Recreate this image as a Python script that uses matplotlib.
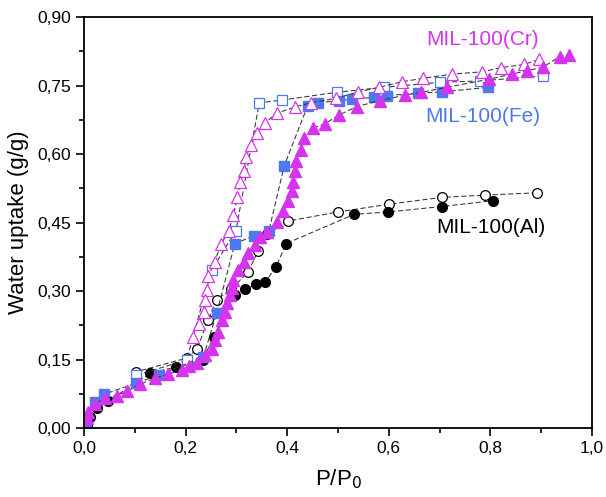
import matplotlib
matplotlib.use("Agg")
import matplotlib.pyplot as plt
from matplotlib.ticker import FuncFormatter, MultipleLocator

plt.rcParams['font.family'] = ['Liberation Sans', 'DejaVu Sans']

# MIL-100(Al) adsorption / desorption
al_ads_x = [0.005, 0.012, 0.025, 0.048, 0.13, 0.182, 0.234, 0.255, 0.297, 0.317,
            0.339, 0.357, 0.378, 0.398, 0.532, 0.599, 0.704, 0.806]
al_ads_y = [0.005, 0.025, 0.043, 0.059, 0.12, 0.134, 0.149, 0.20, 0.291, 0.304,
            0.315, 0.320, 0.353, 0.404, 0.468, 0.473, 0.485, 0.498]
al_des_x = [0.891, 0.789, 0.704, 0.600, 0.499, 0.401, 0.361, 0.343, 0.323, 0.29,
            0.261, 0.244, 0.223, 0.202, 0.102]
al_des_y = [0.515, 0.510, 0.505, 0.490, 0.473, 0.453, 0.424, 0.388, 0.342, 0.304,
            0.281, 0.237, 0.173, 0.153, 0.123]

# MIL-100(Fe)
fe_ads_x = [0.004, 0.022, 0.040, 0.102, 0.147, 0.235, 0.261, 0.297, 0.335, 0.364,
            0.394, 0.44, 0.46, 0.502, 0.528, 0.57, 0.596, 0.657, 0.704, 0.796]
fe_ads_y = [0.01, 0.058, 0.074, 0.098, 0.116, 0.156, 0.251, 0.404, 0.421, 0.432,
            0.574, 0.705, 0.712, 0.717, 0.72, 0.724, 0.728, 0.733, 0.736, 0.746]
fe_des_x = [0.903, 0.78, 0.70, 0.59, 0.497, 0.389, 0.345, 0.299, 0.251, 0.202, 0.102]
fe_des_y = [0.771, 0.760, 0.757, 0.746, 0.735, 0.718, 0.712, 0.432, 0.346, 0.149, 0.115]

# MIL-100(Cr)
cr_ads_x = [0.0, 0.005, 0.008, 0.022, 0.041, 0.064, 0.084, 0.11, 0.14, 0.166,
            0.192, 0.207, 0.222, 0.238, 0.251, 0.258, 0.264, 0.271, 0.278, 0.281,
            0.287, 0.291, 0.294, 0.304, 0.314, 0.323, 0.337, 0.346, 0.36, 0.379,
            0.392, 0.402, 0.409, 0.412, 0.415, 0.417, 0.427, 0.433, 0.45, 0.474,
            0.501, 0.537, 0.583, 0.632, 0.663, 0.714, 0.798, 0.842, 0.871, 0.903,
            0.936, 0.955]
cr_ads_y = [0.0, 0.021, 0.036, 0.053, 0.065, 0.071, 0.08, 0.096, 0.109, 0.118,
            0.128, 0.136, 0.143, 0.16, 0.174, 0.193, 0.211, 0.236, 0.255, 0.273,
            0.291, 0.306, 0.324, 0.346, 0.364, 0.383, 0.401, 0.419, 0.43, 0.452,
            0.475, 0.498, 0.52, 0.539, 0.562, 0.584, 0.608, 0.634, 0.656, 0.666,
            0.685, 0.704, 0.717, 0.729, 0.735, 0.746, 0.764, 0.775, 0.782, 0.79,
            0.813, 0.817]
cr_des_x = [0.895, 0.866, 0.82, 0.784, 0.725, 0.668, 0.625, 0.581, 0.54, 0.496,
            0.446, 0.415, 0.379, 0.356, 0.341, 0.329, 0.319, 0.315, 0.308, 0.302,
            0.294, 0.285, 0.27, 0.257, 0.245, 0.243, 0.238, 0.236, 0.226, 0.214]
cr_des_y = [0.807, 0.796, 0.789, 0.78, 0.775, 0.766, 0.758, 0.746, 0.736, 0.722,
            0.712, 0.703, 0.689, 0.668, 0.647, 0.62, 0.594, 0.563, 0.539, 0.505,
            0.466, 0.432, 0.403, 0.364, 0.333, 0.302, 0.28, 0.254, 0.228, 0.20]

MAG = '#D633EE'
BLUE = '#5078EE'

fig = plt.figure(figsize=(6.06, 4.97), dpi=100)
ax = fig.add_axes([0.1386, 0.1388, 0.8384, 0.827])

lk = dict(color='#333333', lw=0.75, linestyle=(0, (5, 2.5)))

# Al
ax.plot(al_des_x, al_des_y, marker='o', ms=7, mfc='white', mec='black', mew=0.9, **lk)
ax.plot(al_ads_x, al_ads_y, marker='o', ms=7, mfc='black', mec='black', **lk)
# Fe
ax.plot(fe_des_x, fe_des_y, marker='s', ms=6.5, mfc='white', mec=BLUE, mew=0.9, **lk)
ax.plot(fe_ads_x, fe_ads_y, marker='s', ms=6.5, mfc=BLUE, mec=BLUE, **lk)
# Cr
ax.plot(cr_des_x, cr_des_y, marker='^', ms=9, mfc='white', mec=MAG, mew=0.9, **lk)
ax.plot(cr_ads_x, cr_ads_y, marker='^', ms=9, mfc=MAG, mec=MAG, **lk)

ax.text(0.785, 0.85, 'MIL-100(Cr)', color=MAG, fontsize=15, ha='center', va='center')
ax.text(0.785, 0.683, 'MIL-100(Fe)', color=BLUE, fontsize=15, ha='center', va='center')
ax.text(0.80, 0.438, 'MIL-100(Al)', color='black', fontsize=15, ha='center', va='center')

ax.set_xlim(0, 1.0)
ax.set_ylim(0, 0.9)
ax.xaxis.set_major_locator(MultipleLocator(0.2))
ax.xaxis.set_minor_locator(MultipleLocator(0.1))
ax.yaxis.set_major_locator(MultipleLocator(0.15))
ax.yaxis.set_minor_locator(MultipleLocator(0.075))
ax.xaxis.set_major_formatter(FuncFormatter(lambda v, p: f'{v:.1f}'.replace('.', ',')))
ax.yaxis.set_major_formatter(FuncFormatter(lambda v, p: f'{v:.2f}'.replace('.', ',')))
ax.tick_params(which='major', direction='out', length=6, width=1.2, labelsize=12.5)
ax.tick_params(which='minor', direction='out', length=3.5, width=1.2)
for s in ax.spines.values():
    s.set_linewidth(1.3)

ax.set_xlabel('P/P$_0$', fontsize=16, labelpad=8)
ax.set_ylabel('Water uptake (g/g)', fontsize=16, labelpad=6)

fig.savefig('out.png', dpi=100)
